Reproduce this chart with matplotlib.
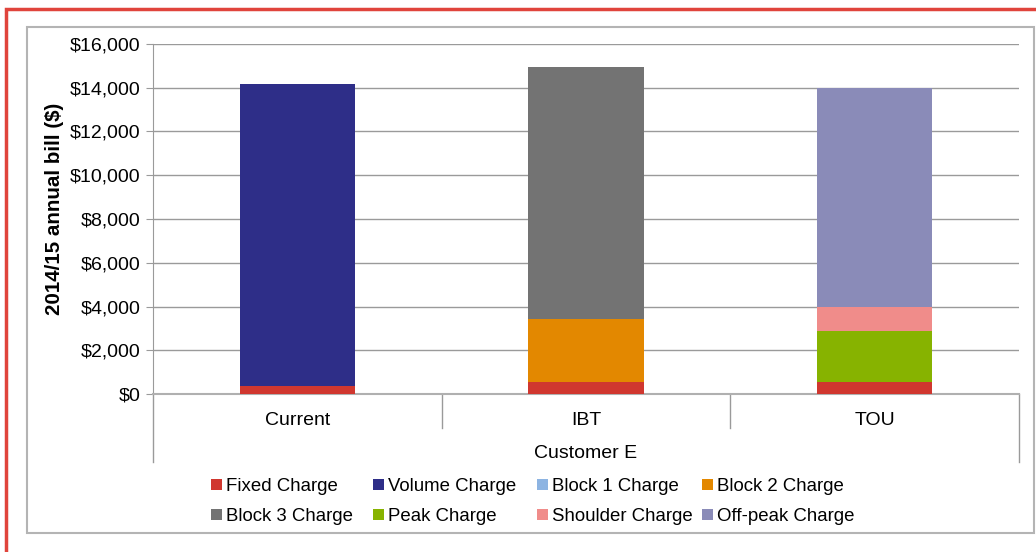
import matplotlib.pyplot as plt
from matplotlib.patches import Rectangle
from matplotlib.ticker import FuncFormatter

plt.rcParams["font.family"] = ["Liberation Sans", "DejaVu Sans"]

# ----------------------------
# Data
# ----------------------------
CATEGORIES = ["Current", "IBT", "TOU"]
GROUP_LABEL = "Customer E"

fixed = [370, 530, 530]
volume = [13800, 0, 0]
block1 = [0, 0, 0]
block2 = [0, 2900, 0]
block3 = [0, 11520, 0]
peak = [0, 0, 2350]
shoulder = [0, 0, 1110]
offpeak = [0, 0, 10000]

SERIES_NAMES = ["Fixed Charge", "Volume Charge", "Block 1 Charge", "Block 2 Charge",
                "Block 3 Charge", "Peak Charge", "Shoulder Charge", "Off-peak Charge"]
SERIES_VALUES = [fixed, volume, block1, block2, block3, peak, shoulder, offpeak]
COLORS = ["#D0372F", "#2E2E88", "#8DB4E2", "#E38800",
          "#737373", "#87B300", "#F08C8A", "#8A8BB8"]

Y_TICKS = [0, 2000, 4000, 6000, 8000, 10000, 12000, 14000, 16000]

# ----------------------------
# Figure
# ----------------------------
W, H = 1036, 552
fig = plt.figure(figsize=(W / 100, H / 100), dpi=100)

# red outer frame (runs off right/bottom) and gray inner frame
fig.patches.append(Rectangle((6 / W, -0.1), 1.2, (H - 9) / H + 0.1, transform=fig.transFigure,
                             fill=False, edgecolor="#E0443C", linewidth=2.5))
fig.patches.append(Rectangle((27 / W, (H - 533) / H), (1034 - 27) / W, (533 - 27) / H,
                             transform=fig.transFigure, fill=False,
                             edgecolor="#B4B4B4", linewidth=1.5))

left, right, top, bottom = 153, 1019, 44, 394
ax = fig.add_axes([left / W, (H - bottom) / H, (right - left) / W, (bottom - top) / H])

x = list(range(len(CATEGORIES)))
base = [0] * len(CATEGORIES)
handles = []
for name, vals, col in zip(SERIES_NAMES, SERIES_VALUES, COLORS):
    b = ax.bar(x, vals, width=0.4, bottom=base, color=col, label=name, zorder=3)
    handles.append(b)
    base = [bb + v for bb, v in zip(base, vals)]

ax.set_xlim(-0.5, 2.5)
ax.set_ylim(0, 16000)
ax.set_yticks(Y_TICKS)
ax.yaxis.set_major_formatter(FuncFormatter(lambda v, p: f"${v:,.0f}"))
ax.grid(axis="y", color="#9A9A9A", linewidth=1, zorder=0)

for s in ["top", "right"]:
    ax.spines[s].set_visible(False)
ax.spines["left"].set_color("#9A9A9A")
ax.spines["bottom"].set_color("#B0B0B0")
ax.spines["bottom"].set_linewidth(1.5)

ax.tick_params(axis="y", length=5, color="#9A9A9A", labelsize=14, pad=4)
ax.set_xticks(x)
ax.set_xticklabels(CATEGORIES)
ax.tick_params(axis="x", length=0, labelsize=14, pad=13)

ax.set_ylabel("2014/15 annual bill ($)", fontsize=14.8, fontweight="bold")
ax.yaxis.set_label_coords((64 - left) / (right - left), (bottom - 209) / (bottom - top))

# multi-level category axis separators
trans = ax.get_xaxis_transform()
for xs, depth in [(-0.5, 68), (0.5, 34), (1.5, 34), (2.5, 68)]:
    ax.plot([xs, xs], [0, -depth / (bottom - top)], transform=trans,
            color="#9A9A9A", linewidth=1, clip_on=False)

ax.text(1, -60 / (bottom - top), GROUP_LABEL, transform=trans,
        ha="center", va="center", fontsize=14)

# legend: four equal-width columns, two rows (Excel style)
col_x = [211, 373, 537, 702]
for c, cx in enumerate(col_x):
    idx = [c, c + 4]
    fig.legend([handles[i] for i in idx], [SERIES_NAMES[i] for i in idx],
               frameon=False, loc="center left", bbox_to_anchor=(cx / W, (H - 501.5) / H),
               fontsize=13.4, handlelength=0.6, handleheight=0.52, handletextpad=0.2,
               labelspacing=0.72, borderpad=0, borderaxespad=0)

fig.savefig("out.png", dpi=100)
